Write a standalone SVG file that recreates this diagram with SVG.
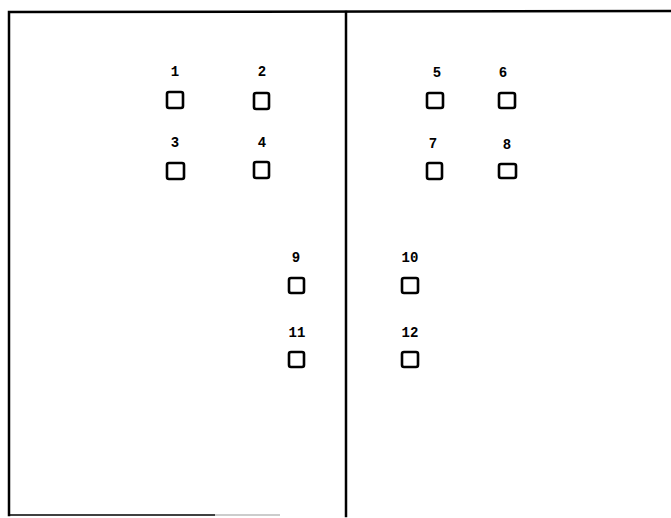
<svg xmlns="http://www.w3.org/2000/svg" width="671" height="518" viewBox="0 0 671 518">
<style>
.frame{fill:none;stroke:#000;stroke-width:2.5;stroke-linecap:square}
.sq{fill:none;stroke:#000;stroke-width:2.6}
.lb{font-family:"Liberation Mono",monospace;font-weight:bold;font-size:14px;text-anchor:middle;fill:#000}
</style>
<rect width="671" height="518" fill="#fff"/>
<g id="frame">
<path class="frame" d="M9,515 L9,12 L671,11"/>
<path class="frame" d="M346,12 L346,516"/>
<path d="M10,515 L215,515" stroke="#000" stroke-width="1.5"/>
<path d="M215,515 L280,515" stroke="#999" stroke-width="1.2"/>
</g>
<g id="n1"><text class="lb" x="175" y="76">1</text><rect class="sq" x="167" y="92" width="16" height="16" rx="2"/></g>
<g id="n2"><text class="lb" x="262" y="76">2</text><rect class="sq" x="254" y="93" width="15" height="16" rx="2"/></g>
<g id="n3"><text class="lb" x="175" y="147">3</text><rect class="sq" x="167" y="163" width="17" height="16" rx="2"/></g>
<g id="n4"><text class="lb" x="262" y="147">4</text><rect class="sq" x="254" y="162" width="15" height="16" rx="2"/></g>
<g id="n5"><text class="lb" x="437" y="77">5</text><rect class="sq" x="427" y="93" width="16" height="15" rx="2"/></g>
<g id="n6"><text class="lb" x="503" y="77">6</text><rect class="sq" x="499" y="93" width="16" height="15" rx="2"/></g>
<g id="n7"><text class="lb" x="433" y="148">7</text><rect class="sq" x="427" y="163" width="15" height="16" rx="2"/></g>
<g id="n8"><text class="lb" x="507" y="149">8</text><rect class="sq" x="499" y="164" width="17" height="14" rx="2"/></g>
<g id="n9"><text class="lb" x="296" y="262">9</text><rect class="sq" x="289" y="278" width="15" height="15" rx="2"/></g>
<g id="n10"><text class="lb" x="410" y="262">10</text><rect class="sq" x="402" y="278" width="16" height="15" rx="2"/></g>
<g id="n11"><text class="lb" x="297" y="337">11</text><rect class="sq" x="289" y="352" width="15" height="15" rx="2"/></g>
<g id="n12"><text class="lb" x="410" y="337">12</text><rect class="sq" x="402" y="352" width="16" height="15" rx="2"/></g>
</svg>
